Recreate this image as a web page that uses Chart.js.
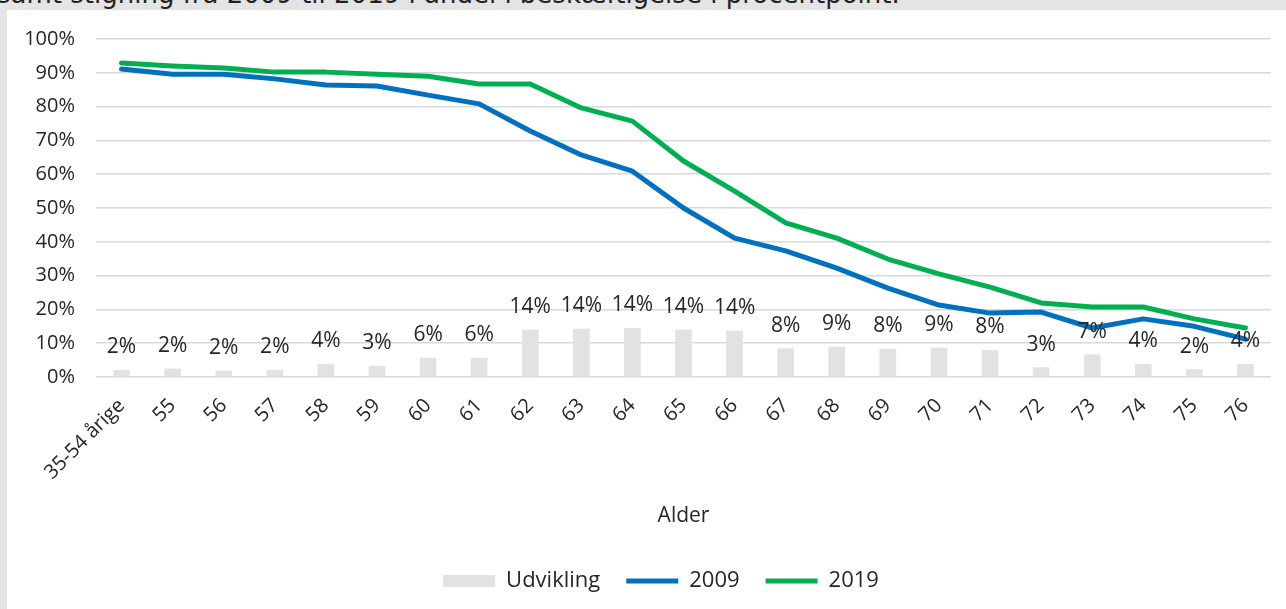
<!DOCTYPE html>
<html>
<head>
<meta charset="utf-8">
<script src="https://cdn.jsdelivr.net/npm/chart.js@4"></script>
<style>
  html, body { margin: 0; padding: 0; }
  body { width: 1286px; height: 609px; background: #e4e4e4; position: relative; overflow: hidden; }
  #title { position: absolute; left: -3px; top: -21px; font: 26px "DejaVu Sans", sans-serif; line-height: 30px; color: #222; white-space: nowrap; }
  #box { position: absolute; left: 7px; top: 10px; width: 1279px; height: 599px; background: #fff; overflow: hidden; }
  #chart { position: absolute; left: 0; top: -4px; }
</style>
</head>
<body>
<div id="title">samt stigning fra 2009 til 2019 i andel i beskæftigelse i procentpoint.</div>
<div id="box"><canvas id="chart" width="1279" height="603"></canvas></div>
<script>
const ages = ['35-54 årige', '55', '56', '57', '58', '59', '60', '61', '62', '63', '64', '65',
    '66', '67', '68', '69', '70', '71', '72', '73', '74', '75', '76'];
const udvikling = [2.0, 2.4, 1.8, 2.0, 3.8, 3.2, 5.6, 5.6, 13.9, 14.2, 14.4, 13.9,
    13.6, 8.4, 8.9, 8.3, 8.6, 7.9, 2.8, 6.6, 3.8, 2.2, 3.8];
const y2009 = [91.1, 89.6, 89.6, 88.2, 86.4, 86.1, 83.4, 80.8, 72.8, 65.7, 60.9, 50.0,
    41.1, 37.3, 32.2, 26.3, 21.3, 18.9, 19.2, 14.5, 17.2, 15.0, 11.2];
const y2019 = [92.9, 92.0, 91.4, 90.2, 90.2, 89.6, 89.0, 86.7, 86.7, 79.6, 75.7, 63.9,
    55.0, 45.6, 41.1, 34.9, 30.5, 26.6, 21.9, 20.7, 20.7, 17.2, 14.5];

const font = '"Open Sans", sans-serif';
const textColor = '#262626';

// labels over the grey bars
const barLabels = {
    id: 'barLabels',
    beforeDraw(chart) {
        // legend sits a bit right of the canvas centre in the original
        chart.legend.left += 22;
        chart.legend.right += 22;
    },
    afterDatasetsDraw(chart) {
        const ctx = chart.ctx;
        const meta = chart.getDatasetMeta(0);
        ctx.save();
        ctx.font = '21px ' + font;
        ctx.fillStyle = textColor;
        ctx.textAlign = 'center';
        ctx.textBaseline = 'alphabetic';
        meta.data.forEach((bar, i) => {
            ctx.fillText(Math.round(udvikling[i]) + '%', bar.x, bar.y - 17);
        });
        ctx.restore();
    }
};

const ctx = document.getElementById('chart').getContext('2d');
new Chart(ctx, {
    type: 'bar',
    data: {
        labels: ages,
        datasets: [{
            label: 'Udvikling',
            data: udvikling,
            backgroundColor: '#e2e2e2',
            barThickness: 16,
            pointStyle: 'rect'
        }, {
            type: 'line',
            label: '2009',
            data: y2009,
            borderColor: '#0070c0',
            backgroundColor: '#0070c0',
            borderWidth: 5,
            borderCapStyle: 'round',
            borderJoinStyle: 'round',
            pointRadius: 0,
            tension: 0,
            pointStyle: 'line'
        }, {
            type: 'line',
            label: '2019',
            data: y2019,
            borderColor: '#00b050',
            backgroundColor: '#00b050',
            borderWidth: 5,
            borderCapStyle: 'round',
            borderJoinStyle: 'round',
            pointRadius: 0,
            tension: 0,
            pointStyle: 'line'
        }]
    },
    options: {
        responsive: false,
        animation: false,
        layout: { padding: { top: 32, right: 15, left: 0, bottom: 7 } },
        plugins: {
            tooltip: { enabled: false },
            legend: {
                position: 'bottom',
                labels: {
                    usePointStyle: true,
                    pointStyleWidth: 52,
                    boxHeight: 12,
                    padding: 26,
                    color: textColor,
                    font: { family: font, size: 22 }
                }
            }
        },
        scales: {
            x: {
                grid: { display: false },
                border: { display: false },
                ticks: {
                    autoSkip: false,
                    minRotation: 45,
                    maxRotation: 45,
                    padding: 9,
                    color: textColor,
                    font: { family: font, size: 20 }
                },
                title: {
                    display: true,
                    text: 'Alder',
                    color: textColor,
                    font: { family: font, size: 21 },
                    padding: { top: 0, bottom: 15 }
                },
                afterFit(scale) { scale.height = 167; }
            },
            y: {
                min: 0,
                max: 100,
                grid: { color: '#d9d9d9', lineWidth: 1.5, drawTicks: false },
                border: { display: false },
                ticks: {
                    stepSize: 10,
                    padding: 21,
                    color: textColor,
                    font: { family: font, size: 20 },
                    callback: v => v + '%'
                },
                afterFit(scale) { scale.width = 89; }
            }
        }
    },
    plugins: [barLabels]
});
</script>
</body>
</html>
